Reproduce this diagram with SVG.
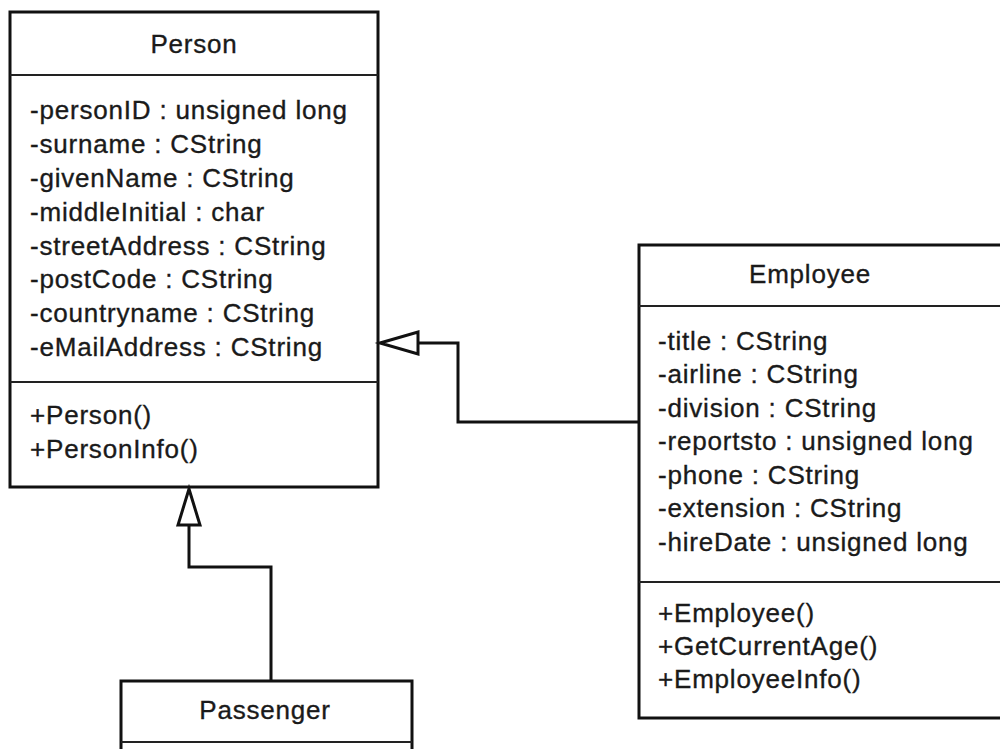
<svg xmlns="http://www.w3.org/2000/svg" width="1000" height="749" viewBox="0 0 1000 749">
<style>
.box{fill:#fff;stroke:#111;stroke-width:3}
.div{stroke:#222;stroke-width:2}
text{font-family:"Liberation Sans",Arial,sans-serif;font-size:26px;fill:#1a1a1a;stroke:#1a1a1a;stroke-width:0.35;letter-spacing:0.8px}
.title{text-anchor:middle}
.conn{fill:none;stroke:#111;stroke-width:3}
.tri{fill:#fff;stroke:#111;stroke-width:3;stroke-linejoin:miter}
</style>
<rect width="1000" height="749" fill="#fff"/>
<g id="Person">
<rect class="box" x="10" y="12" width="368" height="475"/>
<line class="div" x1="10" y1="75" x2="378" y2="75"/>
<line class="div" x1="10" y1="382" x2="378" y2="382"/>
<text class="title" x="194" y="53">Person</text>
<text x="30" y="119">-personID : unsigned long</text>
<text x="30" y="153">-surname : CString</text>
<text x="30" y="187">-givenName : CString</text>
<text x="30" y="221">-middleInitial : char</text>
<text x="30" y="255">-streetAddress : CString</text>
<text x="30" y="288">-postCode : CString</text>
<text x="30" y="322">-countryname : CString</text>
<text x="30" y="356">-eMailAddress : CString</text>
<text x="30" y="424">+Person()</text>
<text x="30" y="458">+PersonInfo()</text>
</g>
<g id="Employee">
<rect class="box" x="639" y="245" width="380" height="473"/>
<line class="div" x1="639" y1="306" x2="1000" y2="306"/>
<line class="div" x1="639" y1="582" x2="1000" y2="582"/>
<text class="title" x="810" y="283">Employee</text>
<text x="658" y="350">-title : CString</text>
<text x="658" y="383">-airline : CString</text>
<text x="658" y="417">-division : CString</text>
<text x="658" y="450">-reportsto : unsigned long</text>
<text x="658" y="484">-phone : CString</text>
<text x="658" y="517">-extension : CString</text>
<text x="658" y="551">-hireDate : unsigned long</text>
<text x="658" y="622">+Employee()</text>
<text x="658" y="655">+GetCurrentAge()</text>
<text x="658" y="688">+EmployeeInfo()</text>
</g>
<g id="Passenger">
<rect class="box" x="121" y="681" width="291" height="90"/>
<line class="div" x1="121" y1="742" x2="412" y2="742"/>
<text class="title" x="265" y="719">Passenger</text>
</g>
<g id="connectors">
<polyline class="conn" points="271,681 271,567 189,567 189,525"/>
<polygon class="tri" points="189,489 178,525 200,525"/>
<polyline class="conn" points="639,422 458,422 458,343 418,343"/>
<polygon class="tri" points="380,343 418,332 418,354"/>
</g>
</svg>
